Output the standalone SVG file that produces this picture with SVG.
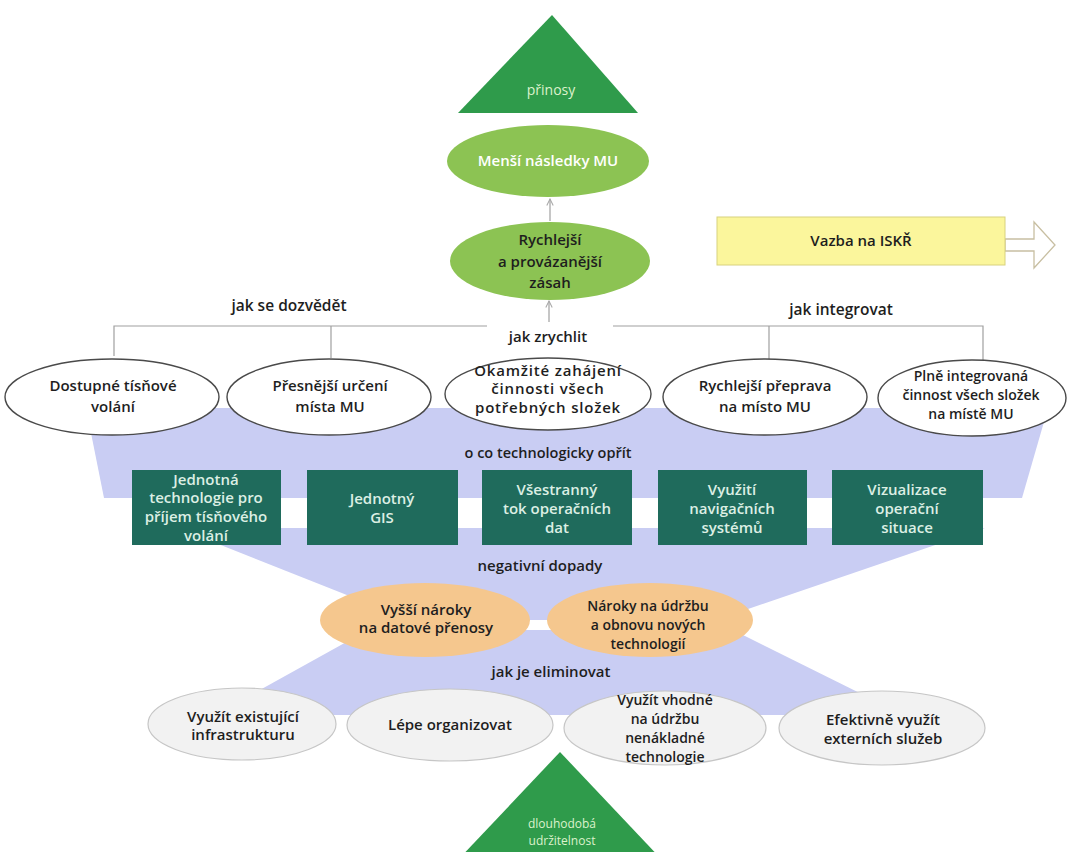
<svg xmlns="http://www.w3.org/2000/svg" width="1075" height="852" viewBox="0 0 1075 852">
<defs>
<marker id="arr" viewBox="0 0 10 10" refX="9" refY="5" markerWidth="8" markerHeight="8" orient="auto" markerUnits="userSpaceOnUse">
<path d="M1,1 L9,5 L1,9" fill="none" stroke="#a8a8a8" stroke-width="1.3"/>
</marker>
<style>
text{font-family:"Open Sans","DejaVu Sans",sans-serif;text-anchor:middle;font-weight:600;fill:#1e1e1e;font-size:15px}
.band{fill:#c9cdf3}
.tri{fill:#2f9b4b}
.tri-t{fill:#dcf2cc;font-size:14px;font-weight:400}
.green{fill:#8cc353}
.wt{fill:#ffffff}
.top{fill:#ffffff;stroke:#4a4a4a;stroke-width:1.4}
.box{fill:#1f6b5c}
.bt{fill:#dcefe4}
.orange{fill:#f5c78e}
.bot{fill:#f2f2f2;stroke:#c6c6c6;stroke-width:1.2}
.lbl{font-size:15.5px}
.conn{fill:none;stroke:#a0a0a0;stroke-width:1.2}
</style>
</defs>
<rect width="1075" height="852" fill="#ffffff"/>
<g id="background-band">
<polygon class="band" points="86,408 1048,408 1022,498 104,498"/>
<polygon class="band" points="178,528 985,528 716,620 410,620"/>
<polygon class="band" points="368,630 733,630 904,715 215,715"/>
</g>
<g id="connectors">
<line class="conn" x1="550" y1="221" x2="550" y2="199" marker-end="url(#arr)"/>
<line class="conn" x1="549" y1="322" x2="549" y2="301" marker-end="url(#arr)"/>
<path class="conn" d="M114,356 V326 H487 M613,326 H983 V364 M331,326 V358 M769,326 V362"/>
<polygon points="1005,239 1034,239 1034,222 1055,245 1034,268 1034,251 1005,251" fill="#ffffff" stroke="#c8bfa2" stroke-width="1.3"/>
</g>
<g id="prinosy">
<polygon class="tri" points="552,15 638,113 458,113"/>
<text class="tri-t" x="551" y="95">přinosy</text>
</g>
<g id="mensi-nasledky">
<ellipse class="green" cx="548" cy="161" rx="101" ry="36"/>
<text class="wt" x="548" y="166">Menší následky MU</text>
</g>
<g id="rychlejsi-zasah">
<ellipse class="green" cx="550" cy="261" rx="100" ry="39" fill="#8ec655"/>
<text x="550" y="245">Rychlejší</text>
<text x="550" y="267">a provázanější</text>
<text x="550" y="288">zásah</text>
</g>
<g id="vazba-iskr">
<rect x="717" y="217" width="288" height="48" fill="#fbf69c" stroke="#d8d27e" stroke-width="1"/>
<text x="861" y="246">Vazba na ISKŘ</text>
</g>
<g id="labels">
<text class="lbl" x="289" y="311">jak se dozvědět</text>
<text class="lbl" x="841" y="315">jak integrovat</text>
<text x="548" y="342">jak zrychlit</text>
<text x="548" y="458" style="font-size:14.5px">o co technologicky opřít</text>
<text x="540" y="571">negativní dopady</text>
<text x="551" y="677">jak je eliminovat</text>
</g>
<g id="dostupne-volani">
<ellipse class="top" cx="112" cy="397" rx="107" ry="38"/>
<text x="113" y="391">Dostupné tísňové</text>
<text x="113" y="412">volání</text>
</g>
<g id="presnejsi-urceni">
<ellipse class="top" cx="329" cy="397" rx="102" ry="38"/>
<text x="330" y="391">Přesnější určení</text>
<text x="330" y="412">místa MU</text>
</g>
<g id="okamzite-zahajeni">
<ellipse class="top" cx="548" cy="394" rx="103" ry="36"/>
<text x="548" y="376" style="letter-spacing:0.8px">Okamžité zahájení</text>
<text x="548" y="394" style="letter-spacing:0.8px">činnosti všech</text>
<text x="548" y="413" style="letter-spacing:0.8px">potřebných složek</text>
</g>
<g id="rychlejsi-preprava">
<ellipse class="top" cx="765" cy="397" rx="102" ry="38"/>
<text x="765" y="391">Rychlejší přeprava</text>
<text x="765" y="412">na místo MU</text>
</g>
<g id="plne-integrovana">
<ellipse class="top" cx="972" cy="398" rx="94" ry="38"/>
<text x="971" y="381" style="font-size:14px">Plně integrovaná</text>
<text x="971" y="400" style="font-size:14px">činnost všech složek</text>
<text x="971" y="419" style="font-size:14px">na místě MU</text>
</g>
<g id="jednotna-technologie">
<rect class="box" x="132" y="470" width="149" height="75"/>
<text class="bt" x="206" y="485">Jednotná</text>
<text class="bt" x="206" y="503">technologie pro</text>
<text class="bt" x="206" y="522">příjem tísňového</text>
<text class="bt" x="206" y="541">volání</text>
</g>
<g id="jednotny-gis">
<rect class="box" x="307" y="470" width="151" height="75"/>
<text class="bt" x="382" y="504">Jednotný</text>
<text class="bt" x="382" y="523">GIS</text>
</g>
<g id="vsestranny-tok">
<rect class="box" x="482" y="470" width="150" height="75"/>
<text class="bt" x="557" y="495">Všestranný</text>
<text class="bt" x="557" y="514">tok operačních</text>
<text class="bt" x="557" y="533">dat</text>
</g>
<g id="navigacni-systemy">
<rect class="box" x="658" y="470" width="149" height="75"/>
<text class="bt" x="732" y="495">Využití</text>
<text class="bt" x="732" y="514">navigačních</text>
<text class="bt" x="732" y="533">systémů</text>
</g>
<g id="vizualizace">
<rect class="box" x="832" y="470" width="151" height="75"/>
<text class="bt" x="907" y="495">Vizualizace</text>
<text class="bt" x="907" y="514">operační</text>
<text class="bt" x="907" y="533">situace</text>
</g>
<g id="vyssi-naroky">
<ellipse class="orange" cx="425" cy="620" rx="105" ry="37"/>
<text x="426" y="615">Vyšší nároky</text>
<text x="426" y="633">na datové přenosy</text>
</g>
<g id="naroky-udrzba">
<ellipse class="orange" cx="650" cy="620" rx="103" ry="37"/>
<text x="648" y="611" style="font-size:14px">Nároky na údržbu</text>
<text x="648" y="630" style="font-size:14px">a obnovu nových</text>
<text x="648" y="649" style="font-size:14px">technologií</text>
</g>
<g id="existujici-infrastruktura">
<ellipse class="bot" cx="242" cy="724" rx="94" ry="36"/>
<text x="243" y="722">Využít existující</text>
<text x="243" y="740">infrastrukturu</text>
</g>
<g id="lepe-organizovat">
<ellipse class="bot" cx="450" cy="725" rx="103" ry="36"/>
<text x="450" y="730">Lépe organizovat</text>
</g>
<g id="nenakladne-technologie">
<ellipse class="bot" cx="665" cy="728" rx="101" ry="37"/>
<text x="665" y="705" style="font-size:14px">Využít vhodné</text>
<text x="665" y="724" style="font-size:14px">na údržbu</text>
<text x="665" y="743" style="font-size:14px">nenákladné</text>
<text x="665" y="762" style="font-size:14px">technologie</text>
</g>
<g id="externi-sluzby">
<ellipse class="bot" cx="882" cy="728" rx="103" ry="37"/>
<text x="883" y="725">Efektivně využít</text>
<text x="883" y="744">externích služeb</text>
</g>
<g id="udrzitelnost">
<polygon class="tri" points="560,752 664,862 456,862"/>
<text class="tri-t" x="562" y="828" style="font-size:12px">dlouhodobá</text>
<text class="tri-t" x="562" y="845" style="font-size:12px">udržitelnost</text>
</g>
</svg>
